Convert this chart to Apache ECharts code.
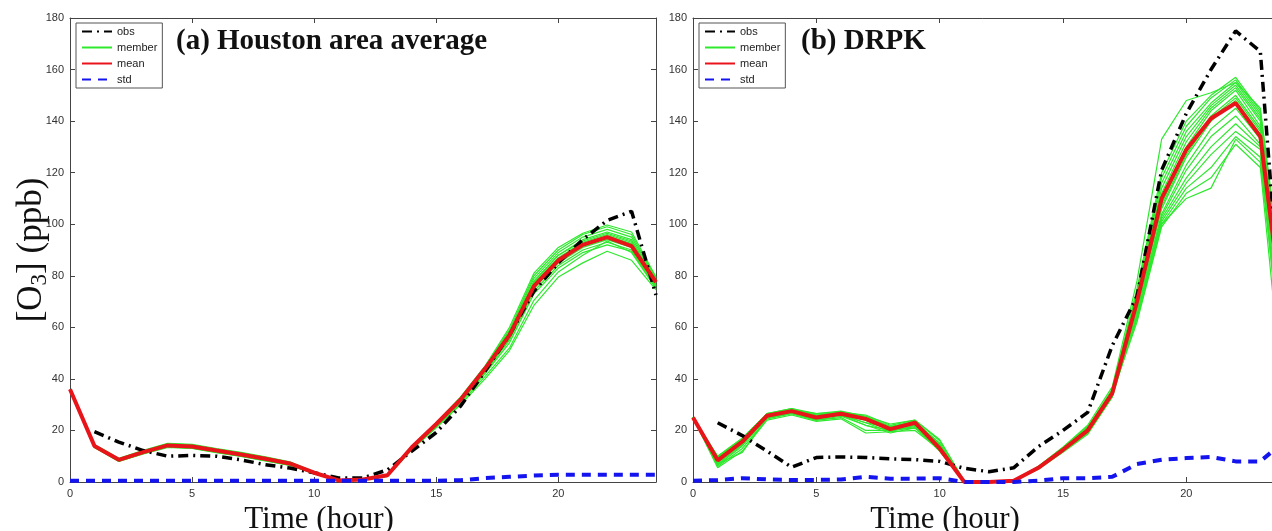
<!DOCTYPE html>
<html>
<head>
<meta charset="utf-8">
<script src="https://cdn.jsdelivr.net/npm/echarts@6/dist/echarts.min.js"></script>
<style>
html,body{margin:0;padding:0;background:#fff;}
#chart{width:1272px;height:531px;}
</style>
</head>
<body>
<div id="chart"></div>
<script>
// ---------- data ----------
const hours = [0,1,2,3,4,5,6,7,8,9,10,11,12,13,14,15,16,17,18,19,20,21,22,23,24];

// (a) Houston area average
const houstonObs  = [null,19.5,15.5,12.2,10,10.3,10,8.6,6.7,5.4,3.6,1.6,1.6,4.7,12,19.2,29.5,43,57,74,85,94,101.5,105,72.5];
const houstonMean = [36,14,8.6,11.6,14.2,13.8,12.2,10.7,9,7.2,3.6,0.6,1,2.6,13.5,22.5,32,44,57,76,86,92,95,91.5,77.5];
const houstonStd  = [0.5,0.5,0.5,0.5,0.5,0.5,0.5,0.5,0.5,0.5,0.5,0.5,0.5,0.5,0.5,0.5,0.7,1.5,2,2.5,2.8,2.8,2.8,2.8,2.8];
const houstonMembers = [
  [36,14.5,9.2,12.3,15,14.6,13,11.5,9.8,7.8,4,0.8,1,2.8,14,23,33,45,60,81,91,96.5,99.7,97,79.5],
  [36,14.3,9,12,14.8,14.4,12.8,11.3,9.6,7.6,3.9,0.7,1,2.7,13.8,22.8,32.8,45,59,80,90,96,99,96,79],
  [36,14.2,8.9,11.9,14.6,14.2,12.6,11.1,9.4,7.5,3.8,0.7,1,2.7,13.7,22.6,32.5,44.5,58.5,79,89,95,98,95,78.5],
  [36,14.1,8.8,11.8,14.4,14,12.4,10.9,9.2,7.4,3.7,0.6,1,2.6,13.6,22.4,32.3,44,58,78,88,94,97,94,78],
  [36,14,8.7,11.7,14.3,13.9,12.3,10.8,9.1,7.3,3.7,0.6,1,2.6,13.5,22.3,32.1,44,57.5,77.5,88,93.5,96.5,93.5,78],
  [36,14,8.6,11.6,14.2,13.8,12.2,10.7,9,7.2,3.6,0.6,1,2.6,13.5,22.2,32,43.5,57,77,87,93,96,93,77.5],
  [36,13.9,8.5,11.5,14.1,13.7,12.1,10.6,8.9,7.1,3.6,0.6,1,2.5,13.4,22.1,31.9,44,57,76.5,86.5,92.5,95.5,92.5,77],
  [36,13.9,8.5,11.5,14,13.6,12,10.5,8.8,7,3.5,0.5,0.9,2.5,13.3,22,31.8,43.5,56.5,76,86,92,95,92,77],
  [36,13.8,8.4,11.4,13.9,13.5,11.9,10.4,8.7,6.9,3.5,0.5,0.9,2.5,13.2,21.9,31.6,43,56,75.5,85.5,91.5,94.5,91.5,76.5],
  [36,13.8,8.4,11.3,13.8,13.4,11.8,10.3,8.6,6.8,3.4,0.5,0.9,2.4,13.1,21.8,31.5,43,55.5,75,85,91,94,91,76],
  [36,13.7,8.3,11.2,13.7,13.3,11.7,10.2,8.5,6.7,3.4,0.5,0.9,2.4,13,21.6,31.3,42.5,55,74,84,90,93,90,76],
  [36,13.6,8.2,11.1,13.6,13.2,11.6,10.1,8.4,6.6,3.3,0.4,0.8,2.3,12.9,21.4,31,42,54,73,83,89,92,89.5,75.5],
  [36,13.5,8.1,11,13.5,13.1,11.5,10,8.3,6.5,3.3,0.4,0.8,2.3,12.8,21.2,30.5,41,52,70.5,81.5,88,93.5,89,75],
  [36,13.4,8,10.9,13.4,13,11.4,9.9,8.2,6.4,3.2,0.4,0.8,2.2,12.6,21,30,40,51,68.5,79.5,85,89.5,86,74.5]
];

// (b) DRPK
const drpkObs  = [null,23,18,12,5.7,9.5,9.7,9.5,9,8.7,8,5.3,4,5.5,13.7,20,27,53,72,121,143,160,175,167,45];
const drpkMean = [25,8.4,15.7,25.7,27.5,25,26.5,24.5,20.5,23,13,0,0,0.5,5.5,12.5,20,34.5,70,110,129,141,147,134,58];
const drpkStd  = [0.5,0.8,1.5,1,0.8,0.8,1,2,1.3,1.3,1.5,0,0,0,0.5,1.5,1.5,2,7,8.6,9.3,9.7,8,8,16];
const drpkMembers = [
  [25,9.5,16.5,26,28,25.5,26.5,25,21,23.5,14,0,0,0.5,6,13.5,22,37,78,133,148,151,155,145,70],
  [25,10,17,26.5,28.5,26,27,25.5,21.5,23,15,0.2,0,0.5,6,13,21,36,75,120,140,150,157,144,65],
  [25,9,16,26,28,25.5,27,26,22,24,16,0.3,0,0.5,5.8,13,21,35.5,74,118,138,149,156,143,60],
  [25,8.5,15.5,25.5,27.5,25,26.5,24,20,22.5,13,0,0,0.5,5.5,12.5,20,35,73,116,136,147,155,142,55],
  [25,8,15,25,27,24.5,26,23,19.5,22,12.5,0,0,0.5,5.5,12.5,19.5,34.5,72,114,134,146,154,141,62],
  [25,7.5,14.5,25,27,24.5,26,22,19,21,12,0,0,0.5,5.3,12,19,34,71,112,132,145,153,140,50],
  [25,6,13,24.5,26.5,24,25,20,20,21.5,12,0,0,0.4,5,12,19,33.5,70,110,130,144,152,138,48],
  [25,5.5,12,24,26,23.5,24.5,19,19.5,20,12.5,0,0,0.4,5,11.5,18.5,33,70,108,128,142,150,137,58],
  [25,7,11.5,25,27.5,25.5,26,23,21,22.5,14,0,0,0.5,5.5,12.5,20,34,69,107,127,141,149,136,45],
  [25,9,16,26.5,28,26.5,27.5,25.5,22.5,24,16.5,0.4,0,0.5,6,13.5,21.5,35,68,106,126,140,148,135,52],
  [25,8,15,25.5,27,25,26,24,20.5,23,13.5,0,0,0.5,5.5,12.5,20,34.5,67,104,123,137,145,133,40],
  [25,8.5,15.5,26,27.5,25.5,26.5,24.5,21,23,14,0,0,0.5,5.5,12.5,20,34,66,103,121,134,142,131,55],
  [25,6.5,14,25,26.5,24,25.5,22,20,21,12.5,0,0,0.4,5.2,12,19,33,65,102,118,130,139,130,35],
  [25,7,14.5,25.5,27,25,26,24.5,21,22,13,0,0,0.5,5.3,12,19.5,33.5,64,101,116,127,136,129,30],
  [25,9.5,16.5,26,28,26,27,25,21.5,23.5,15,0.2,0,0.5,5.8,13,21,36,63,100,114,122,134,126,42],
  [25,8,15,25.5,27.5,25,26.5,24.5,20.5,23,13.5,0,0,0.5,5.5,12.5,20,34.5,62,99,112,118,131,122,25],
  [25,10,17,26.5,28.5,26.5,27,25,21,23,14.5,0,0,0.5,5.7,13,20.5,35,64,100,110,114,133,124,38]
];

const legendNames = ['obs','member','mean','std'];
const panelTitles = ['(a) Houston area average', '(b) DRPK'];

// ---------- styles ----------
const C = {
  obs: '#000000', member: '#2ee82e', mean: '#e8141a', std: '#1414ee', axis: '#444444', label: '#333333'
};
const pair = arr => hours.map((h, i) => [h, arr[i] == null ? '-' : arr[i]]);

function panelSeries(members, obs, mean, std, xi, yi) {
  const s = [];
  members.forEach(m => s.push({
    name: 'member', type: 'line', xAxisIndex: xi, yAxisIndex: yi, data: pair(m),
    showSymbol: false, symbol: 'none', lineStyle: { color: C.member, width: 1.2 }, itemStyle: { color: C.member }, z: 2
  }));
  s.push({
    name: 'obs', type: 'line', xAxisIndex: xi, yAxisIndex: yi, data: pair(obs),
    showSymbol: false, symbol: 'none', connectNulls: false,
    lineStyle: { color: C.obs, width: 3.5, type: [10, 5, 2, 5] }, itemStyle: { color: C.obs }, z: 3
  });
  s.push({
    name: 'mean', type: 'line', xAxisIndex: xi, yAxisIndex: yi, data: pair(mean),
    showSymbol: false, symbol: 'none', lineStyle: { color: C.mean, width: 4 }, itemStyle: { color: C.mean }, z: 4
  });
  s.push({
    name: 'std', type: 'line', xAxisIndex: xi, yAxisIndex: yi, data: pair(std),
    showSymbol: false, symbol: 'none', lineStyle: { color: C.std, width: 4, type: [9, 7] }, itemStyle: { color: C.std }, z: 5
  });
  return s;
}

const axisLineStyle = { onZero: false, lineStyle: { color: C.axis, width: 1 } };
const tickStyle = { inside: true, length: 5, lineStyle: { color: C.axis, width: 1 } };
const labelStyle = { color: C.label, fontSize: 11, fontFamily: 'Liberation Sans', margin: 6 };

function xAxes(grid) {
  return [
    {
      gridIndex: grid, type: 'value', position: 'bottom', min: 0, max: 24, interval: 5,
      axisLine: axisLineStyle, axisTick: tickStyle, splitLine: { show: false },
      axisLabel: Object.assign({ showMaxLabel: false }, labelStyle),
      name: 'Time (hour)', nameLocation: 'middle', nameGap: 19,
      nameTextStyle: { fontFamily: 'Liberation Serif', fontSize: 31, color: '#111', padding: [0, 88, 0, 0] }
    },
    {
      gridIndex: grid, type: 'value', position: 'top', min: 0, max: 24, interval: 5,
      axisLine: axisLineStyle, axisTick: tickStyle, splitLine: { show: false }, axisLabel: { show: false }
    }
  ];
}
function yAxes(grid, withName) {
  const a = {
    gridIndex: grid, type: 'value', position: 'left', min: 0, max: 180, interval: 20,
    axisLine: axisLineStyle, axisTick: tickStyle, splitLine: { show: false }, axisLabel: labelStyle
  };
  if (withName) {
    a.name = '{a|[O}{s|3}{a|] (ppb)}';
    a.nameLocation = 'middle';
    a.nameGap = 19;
    a.nameMoveOverlap = false;
    a.nameTextStyle = {
      rich: {
        a: { fontFamily: 'Liberation Serif', fontSize: 35, color: '#111' },
        s: { fontFamily: 'Liberation Serif', fontSize: 23, color: '#111', padding: [16, 0, 0, 0] }
      }
    };
  }
  return [a, {
    gridIndex: grid, type: 'value', position: 'right', min: 0, max: 180, interval: 20,
    axisLine: axisLineStyle, axisTick: tickStyle, splitLine: { show: false }, axisLabel: { show: false }
  }];
}

function legendAt(left) {
  return {
    left: left, top: 23, orient: 'vertical', data: legendNames, selectedMode: false,
    itemWidth: 30, itemHeight: 10, itemGap: 5, padding: [3, 5, 3, 5],
    borderColor: '#555', borderWidth: 1, backgroundColor: '#fff',
    itemStyle: { color: 'rgba(0,0,0,0)', borderWidth: 0 },
    textStyle: { fontSize: 11, color: '#222', fontFamily: 'Liberation Sans' }
  };
}

const titleStyle = { fontFamily: 'Liberation Serif', fontWeight: 'bold', fontSize: 29, color: '#111' };

const option = {
  animation: false,
  backgroundColor: '#ffffff',
  title: [
    { text: panelTitles[0], left: 176, top: 27, padding: 0, textStyle: titleStyle },
    { text: panelTitles[1], left: 801, top: 27, padding: 0, textStyle: titleStyle }
  ],
  legend: [legendAt(76), legendAt(699)],
  grid: [
    { left: 70, top: 18, width: 586, height: 464, show: false, outerBoundsMode: 'none', containLabel: false },
    { left: 693, top: 18, width: 592, height: 464, show: false, outerBoundsMode: 'none', containLabel: false }
  ],
  xAxis: xAxes(0).concat(xAxes(1)),
  yAxis: yAxes(0, true).concat(yAxes(1, false)),
  series: panelSeries(houstonMembers, houstonObs, houstonMean, houstonStd, 0, 0)
    .concat(panelSeries(drpkMembers, drpkObs, drpkMean, drpkStd, 2, 2))
};

const chart = echarts.init(document.getElementById('chart'), null, { renderer: 'canvas' });
chart.setOption(option);
</script>
</body>
</html>
